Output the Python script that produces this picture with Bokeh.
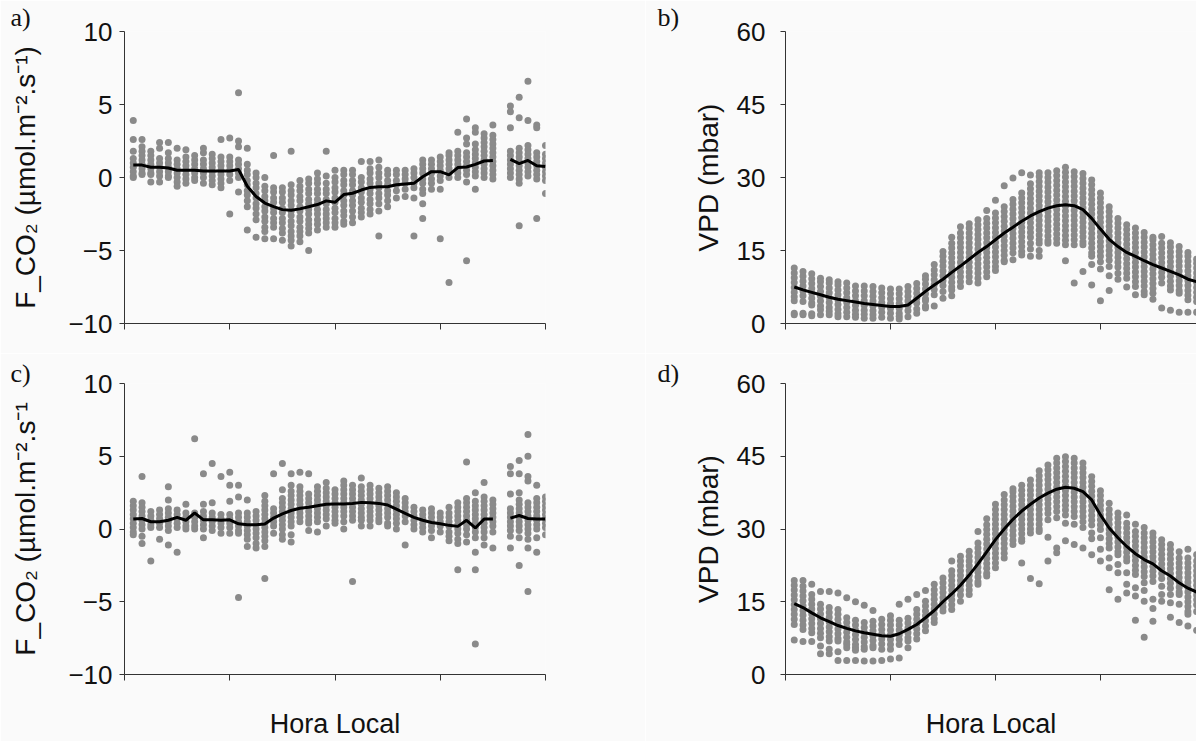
from bokeh.plotting import figure
from bokeh.layouts import column, row
from bokeh.models import FixedTicker, Range1d
from bokeh.embed import file_html
from bokeh.resources import INLINE

# ---------------- data ----------------
HOURS = [0.5, 1.0, 1.5, 2.0, 2.5, 3.0, 3.5, 4.0, 4.5, 5.0, 5.5, 6.0,
         6.5, 7.0, 7.5, 8.0, 8.5, 9.0, 9.5, 10.0, 10.5, 11.0, 11.5, 12.0,
         12.5, 13.0, 13.5, 14.0, 14.5, 15.0, 15.5, 16.0, 16.5, 17.0, 17.5, 18.0,
         18.5, 19.0, 19.5, 20.0, 20.5, 21.0, 21.5, 22.0, 22.5, 23.0, 23.5, 24.0]
NAN = float("nan")
X_TICKS = [0, 6, 12, 18, 24]
FCO2_TICKS = [-10, -5, 0, 5, 10]
VPD_TICKS = [0, 15, 30, 45, 60]

# panel a) F_CO2, individual half-hourly values per time of day
FCO2_A = [
    [3.9, 2.6, 1.8, 1.3, 1.0, 0.7, 0.4, 0.1, 0.0],
    [2.6, 2.1, 1.8, 1.5, 1.2, 0.9, 0.6, 0.3, 0.2],
    [1.8, 1.5, 1.2, 0.9, 0.6, 0.3, 0.2, -0.3],
    [2.4, 2.0, 1.3, 1.0, 0.7, 0.4, 0.1, -0.3],
    [2.4, 1.7, 1.3, 1.0, 0.7, 0.4, 0.1, 0.0],
    [2.0, 1.2, 0.9, 0.6, 0.3, 0.0, -0.3, -0.6],
    [1.9, 1.4, 1.1, 0.8, 0.5, 0.2, -0.1, -0.4],
    [1.5, 1.2, 0.9, 0.6, 0.3, 0.0, -0.2],
    [2.0, 1.7, 1.2, 0.9, 0.6, 0.3, 0.0, -0.4],
    [1.6, 1.3, 1.0, 0.7, 0.4, 0.1, -0.2, -0.5],
    [2.6, 1.4, 1.1, 0.8, 0.5, 0.2, -0.1, -0.4, -0.7],
    [2.7, 1.4, 1.1, 0.8, 0.5, 0.2, -0.2, -2.5],
    [5.8, 2.5, 2.1, 1.2, 0.9, 0.6, 0.3, 0.0, -1.0],
    [2.0, 0.9, 0.5, 0.2, -0.2, -0.5, -0.9, -1.2, -1.6, -2.0, -3.6],
    [0.3, 0.0, -0.4, -0.7, -1.1, -1.4, -1.8, -2.1, -2.5, -2.9, -4.1],
    [0.0, -0.6, -0.9, -1.3, -1.6, -2.0, -2.3, -2.7, -3.0, -3.4, -3.7, -4.2],
    [1.5, -0.7, -1.0, -1.4, -1.7, -2.1, -2.4, -2.8, -3.1, -3.4, -4.2],
    [-0.7, -1.0, -1.4, -1.7, -2.1, -2.4, -2.8, -3.1, -3.5, -3.8, -4.3],
    [1.8, -0.5, -0.9, -1.2, -1.6, -1.9, -2.3, -2.6, -3.0, -3.3, -3.7, -4.0, -4.3, -4.7],
    [-0.2, -0.6, -0.9, -1.3, -1.6, -2.0, -2.3, -2.7, -3.0, -3.4, -3.7, -4.0, -4.4],
    [-0.1, -0.4, -0.8, -1.1, -1.5, -1.8, -2.2, -2.5, -2.9, -3.2, -3.5, -3.8, -5.0],
    [0.3, -0.1, -0.4, -0.8, -1.1, -1.5, -1.8, -2.2, -2.5, -2.9, -3.2, -3.6],
    [1.8, 0.1, -0.4, -0.8, -1.1, -1.5, -1.8, -2.2, -2.5, -2.8, -3.1, -3.4],
    [0.5, 0.0, -0.3, -0.7, -1.0, -1.4, -1.7, -2.1, -2.4, -2.8, -3.1, -3.4],
    [0.5, 0.2, -0.2, -0.5, -0.9, -1.2, -1.6, -1.9, -2.3, -2.6, -3.0, -3.2],
    [0.5, 0.2, -0.2, -0.5, -0.9, -1.2, -1.6, -1.9, -2.3, -2.7, -3.1],
    [1.1, 0.0, -0.3, -0.7, -1.0, -1.4, -1.7, -2.1, -2.4, -2.7],
    [1.1, 0.6, 0.3, -0.1, -0.4, -0.8, -1.1, -1.5, -1.8, -2.2, -2.5],
    [1.2, 0.7, 0.3, 0.0, -0.4, -0.7, -1.1, -1.4, -1.8, -2.3, -4.0],
    [0.5, 0.2, -0.2, -0.5, -0.9, -1.2, -1.6, -2.0],
    [0.5, 0.2, -0.2, -0.5, -0.9, -1.4],
    [0.5, 0.2, -0.1, -0.4, -0.8, -1.3],
    [0.6, 0.3, 0.0, -0.4, -0.7, -1.4, -4.0],
    [1.2, 0.9, 0.6, 0.3, -0.1, -0.4, -0.8, -1.1, -1.8, -2.8],
    [1.2, 0.9, 0.6, 0.3, -0.1, -0.4, -0.8],
    [1.4, 1.1, 0.8, 0.5, 0.1, -0.2, -0.8, -4.2],
    [1.7, 1.5, 1.2, 0.9, 0.6, 0.3, 0.0, -7.2],
    [3.1, 1.8, 1.5, 1.2, 0.9, 0.6, 0.3, 0.0],
    [4.0, 2.7, 2.3, 1.7, 1.4, 1.1, 0.8, 0.5, 0.2, -0.3, -5.7],
    [3.4, 3.1, 2.3, 1.9, 1.6, 1.3, 1.0, 0.7, 0.4, 0.1, -0.8],
    [3.0, 2.7, 2.4, 2.1, 1.8, 1.5, 1.2, 0.9, 0.6, 0.3, 0.0],
    [3.6, 2.9, 2.6, 2.3, 2.0, 1.7, 1.4, 1.1, 0.8, 0.5, 0.2, -0.1],
    [],
    [4.9, 4.5, 3.4, 1.8, 1.5, 1.2, 0.9, 0.6, 0.3, 0.0],
    [5.5, 4.1, 2.0, 1.7, 1.4, 1.1, 0.8, 0.5, 0.2, -0.1, -0.4, -3.3],
    [6.6, 3.9, 2.2, 1.9, 1.6, 1.3, 1.0, 0.7, 0.4, 0.1],
    [3.6, 3.4, 1.7, 1.4, 1.1, 0.8, 0.5, 0.2, -0.1, -2.8],
    [2.2, 1.6, 1.3, 1.0, 0.7, 0.4, 0.1, -0.2, -1.1],
]
MEAN_A = [0.85, 0.85, 0.7, 0.7, 0.65, 0.5, 0.5, 0.5, 0.45, 0.45, 0.45, 0.45,
          0.55, -0.6, -1.3, -1.75, -2.0, -2.2, -2.25, -2.15, -2.0, -1.85, -1.6, -1.7,
          -1.17, -1.08, -0.86, -0.68, -0.63, -0.63, -0.5, -0.45, -0.4, 0.05, 0.4, 0.4,
          0.18, 0.68, 0.72, 0.9, 1.13, 1.17, NAN, 1.24, 0.95, 1.17, 0.8, 0.75]

# panel b) VPD (0.5 h .. 23.5 h visible)
VPD_B = [
    [11.4, 10.4, 9.4, 8.4, 7.4, 6.4, 5.5, 4.7, 2.1, 1.8],
    [10.7, 9.7, 8.7, 7.7, 6.7, 5.7, 4.5, 2.1, 1.8],
    [10.2, 9.2, 8.2, 7.2, 6.2, 5.2, 4.2, 3.8, 2.0, 1.6],
    [9.3, 8.6, 7.6, 6.6, 5.6, 4.6, 3.6, 2.8, 1.8],
    [9.0, 8.3, 7.3, 6.3, 5.3, 4.3, 3.3, 2.5, 1.8],
    [8.6, 7.9, 6.9, 5.9, 4.9, 3.9, 2.9, 2.0, 1.4],
    [8.3, 7.3, 6.3, 5.3, 4.3, 3.3, 2.3, 1.4],
    [7.7, 6.7, 5.7, 4.7, 3.7, 2.7, 1.9, 1.3],
    [7.7, 6.7, 5.7, 4.7, 3.7, 2.7, 1.9, 1.1],
    [7.6, 6.6, 5.6, 4.6, 3.6, 2.6, 1.8, 1.1],
    [7.3, 6.3, 5.3, 4.3, 3.3, 2.3, 1.3],
    [7.1, 6.1, 5.1, 4.1, 3.1, 2.1, 1.1],
    [7.1, 6.1, 5.1, 4.1, 3.1, 2.1, 1.5, 0.9],
    [7.6, 6.6, 5.6, 4.6, 3.6, 2.6, 1.4],
    [8.2, 7.2, 6.2, 5.2, 4.2, 3.0, 2.1],
    [9.8, 9.1, 8.1, 7.1, 6.1, 5.1, 4.7, 3.6, 3.2],
    [12.1, 11.0, 10.0, 9.0, 8.0, 7.0, 5.9, 3.6],
    [14.8, 13.8, 12.8, 11.8, 10.8, 9.8, 8.8, 7.8, 6.6, 5.2],
    [17.7, 16.5, 15.5, 14.5, 13.5, 12.5, 11.5, 10.5, 9.5, 8.5, 7.5, 6.9, 5.7],
    [19.9, 18.6, 17.6, 16.6, 15.6, 14.6, 13.6, 12.6, 11.6, 10.6, 9.6, 8.6, 7.6],
    [20.5, 19.6, 18.6, 17.6, 16.6, 15.6, 14.6, 13.6, 12.6, 11.6, 10.6, 9.6, 8.6],
    [21.3, 20.3, 19.3, 18.3, 17.3, 16.3, 15.3, 14.3, 13.3, 12.3, 11.3, 10.3, 9.3, 8.3],
    [23.2, 21.6, 20.6, 19.6, 18.6, 17.6, 16.6, 15.6, 14.6, 13.6, 12.6, 11.6, 10.6, 9.6],
    [25.3, 22.7, 21.7, 20.7, 19.7, 18.7, 17.7, 16.7, 15.7, 14.7, 13.7, 12.7, 11.7, 10.9],
    [28.3, 24.0, 23.0, 22.0, 21.0, 20.0, 19.0, 18.0, 17.0, 16.0, 15.0, 14.0, 13.0, 12.7],
    [29.9, 25.5, 24.5, 23.5, 22.5, 21.5, 20.5, 19.5, 18.5, 17.5, 16.5, 15.5, 14.5, 13.1],
    [31.0, 26.8, 25.8, 24.8, 23.8, 22.8, 21.8, 20.8, 19.8, 18.8, 17.8, 16.8, 15.8, 14.8, 14.1],
    [30.5, 28.7, 27.7, 26.7, 25.7, 24.7, 23.7, 22.7, 21.7, 20.7, 19.7, 18.7, 17.7, 16.5, 15.3, 13.8],
    [31.0, 30.2, 29.2, 28.2, 27.2, 26.2, 25.2, 24.2, 23.2, 22.2, 21.2, 20.2, 19.2, 18.2, 17.2, 16.5, 15.0, 13.8],
    [31.0, 30.0, 29.0, 28.0, 27.0, 26.0, 25.0, 24.0, 23.0, 22.0, 21.0, 20.0, 19.0, 18.0, 17.0, 16.5],
    [31.4, 30.4, 29.4, 28.4, 27.4, 26.4, 25.4, 24.4, 23.4, 22.4, 21.4, 20.4, 19.4, 18.4, 17.4, 16.5],
    [32.1, 31.1, 30.1, 29.1, 28.1, 27.1, 26.1, 25.1, 24.1, 23.1, 22.1, 21.1, 20.1, 19.1, 18.1, 17.1, 16.2, 12.9],
    [31.2, 30.2, 29.2, 28.2, 27.2, 26.2, 25.2, 24.2, 23.2, 22.2, 21.2, 20.2, 19.2, 18.2, 17.2, 16.2, 8.3],
    [30.8, 29.8, 28.8, 27.8, 26.8, 25.8, 24.8, 23.8, 22.8, 21.8, 20.8, 19.8, 18.8, 17.8, 16.8, 16.2, 10.7],
    [29.5, 28.5, 27.5, 26.5, 25.5, 24.5, 23.5, 22.5, 21.5, 20.5, 19.5, 18.5, 17.5, 16.5, 15.5, 14.5, 13.8, 12.1, 7.9],
    [26.8, 25.8, 24.8, 23.8, 22.8, 21.8, 20.8, 19.8, 18.8, 17.8, 16.8, 15.8, 14.8, 13.8, 12.7, 11.2, 4.7],
    [24.0, 23.0, 22.0, 21.0, 20.0, 19.0, 18.0, 17.0, 16.0, 15.0, 14.0, 13.0, 11.7, 9.8, 6.8],
    [21.6, 20.6, 19.6, 18.6, 17.6, 16.6, 15.6, 14.6, 13.6, 12.6, 11.6, 10.3, 9.1],
    [20.3, 19.3, 18.3, 17.3, 16.3, 15.3, 14.3, 13.3, 12.3, 11.3, 10.3, 9.3, 7.5],
    [19.6, 18.6, 17.6, 16.6, 15.6, 14.6, 13.6, 12.6, 11.6, 10.6, 9.6, 8.6, 7.6, 5.9],
    [18.7, 17.7, 16.7, 15.7, 14.7, 13.7, 12.7, 11.7, 10.7, 9.7, 8.7, 7.7, 6.6, 5.9],
    [17.7, 17.2, 16.2, 15.2, 14.2, 13.2, 12.2, 11.2, 10.2, 9.2, 8.2, 7.2, 6.2, 5.0],
    [17.9, 16.5, 15.5, 14.5, 13.5, 12.5, 11.5, 10.5, 9.5, 8.3, 3.2],
    [16.6, 15.7, 14.7, 13.7, 12.7, 11.7, 10.7, 9.7, 8.7, 7.7, 6.9, 2.7],
    [15.8, 14.8, 13.8, 12.8, 11.8, 10.8, 9.8, 8.8, 7.8, 6.8, 6.2, 2.3],
    [14.6, 13.8, 12.8, 11.8, 10.8, 9.8, 8.8, 7.8, 6.8, 5.8, 4.9, 2.3],
    [13.2, 12.4, 11.4, 10.4, 9.4, 8.4, 7.4, 6.4, 5.4, 4.5, 2.3],
]
MEAN_B = [7.5, 6.9, 6.4, 5.9, 5.4, 5.0, 4.7, 4.4, 4.1, 3.9, 3.7, 3.5,
          3.5, 3.8, 5.2, 6.6, 7.9, 9.1, 10.5, 11.8, 13.2, 14.6, 15.8, 17.2,
          18.6, 19.8, 21.0, 22.1, 23.0, 23.7, 24.2, 24.4, 24.2, 23.4, 21.6, 19.4,
          17.3, 15.8, 14.6, 13.8, 12.9, 12.1, 11.4, 10.7, 10.0, 9.1, 8.6]

# panel c) F_CO2
FCO2_C = [
    [1.9, 1.6, 1.3, 1.0, 0.7, 0.4, 0.1, -0.2, -0.4],
    [3.6, 1.8, 1.5, 1.2, 0.9, 0.6, 0.3, 0.0, -0.5, -1.0],
    [1.2, 0.9, 0.6, 0.3, 0.1, -2.2],
    [1.3, 1.0, 0.7, 0.4, 0.1, -0.7],
    [2.9, 2.0, 1.4, 1.1, 0.8, 0.5, 0.2, -0.1, -1.1],
    [1.3, 1.0, 0.7, 0.4, 0.1, -1.6],
    [1.7, 1.1, 0.8, 0.5, 0.2, 0.0],
    [6.2, 1.1, 0.8, 0.5, 0.2, 0.0],
    [3.8, 1.7, 1.2, 0.9, 0.6, 0.3, 0.0, -0.6],
    [4.5, 1.8, 1.1, 0.8, 0.5, 0.2, -0.1],
    [3.6, 1.0, 0.7, 0.4, 0.1, -0.3],
    [3.9, 3.0, 1.9, 1.0, 0.7, 0.4, 0.1, -0.3],
    [3.0, 2.2, 1.1, 0.8, 0.5, 0.2, -0.1, -0.3, -4.7],
    [2.0, 1.1, 0.8, 0.5, 0.2, -0.1, -0.4, -0.7, -1.2],
    [1.2, 0.9, 0.6, 0.3, 0.0, -0.3, -0.6, -1.0, -1.3],
    [2.3, 1.9, 1.6, 1.3, 1.0, 0.7, 0.4, 0.1, -0.2, -0.5, -0.8, -1.2, -3.4],
    [3.8, 1.4, 1.1, 0.8, 0.5, 0.2, -0.3],
    [4.5, 2.7, 2.1, 1.8, 1.5, 1.2, 0.9, 0.6, 0.3, 0.0, -0.4, -0.7],
    [3.8, 3.0, 2.6, 2.3, 2.0, 1.7, 1.4, 1.1, 0.8, 0.5, 0.2, -0.4, -0.9],
    [3.9, 2.9, 2.6, 2.3, 2.0, 1.7, 1.4, 1.1, 0.8, 0.5],
    [3.8, 2.4, 2.1, 1.8, 1.5, 1.2, 0.9, 0.6, 0.4, -0.1],
    [2.9, 2.6, 2.3, 2.0, 1.7, 1.4, 1.1, 0.8, 0.5, -0.2],
    [3.2, 2.8, 2.5, 2.2, 1.9, 1.6, 1.3, 1.0, 0.7, 0.2],
    [2.7, 2.4, 2.1, 1.8, 1.5, 1.2, 0.9, 0.6, 0.4],
    [3.3, 3.0, 2.7, 2.4, 2.1, 1.8, 1.5, 1.2, 0.9, 0.5, 0.0],
    [3.0, 2.7, 2.4, 2.1, 1.8, 1.5, 1.2, 0.9, 0.6, -3.6],
    [3.5, 2.9, 2.6, 2.3, 2.0, 1.7, 1.4, 1.1, 0.8, 0.6, 0.2],
    [3.0, 2.7, 2.4, 2.1, 1.8, 1.5, 1.2, 0.9, 0.6, 0.2],
    [2.8, 2.5, 2.2, 1.9, 1.6, 1.3, 1.0, 0.7, 0.5],
    [2.9, 2.6, 2.3, 2.0, 1.7, 1.4, 1.1, 0.8, 0.4, 0.2],
    [2.5, 2.2, 1.9, 1.6, 1.3, 1.0, 0.7, 0.4, 0.0],
    [2.1, 1.8, 1.5, 1.2, 0.9, 0.5, -1.1],
    [1.5, 1.2, 0.9, 0.6, 0.3, 0.0],
    [1.3, 1.0, 0.7, 0.4, 0.1, -0.2],
    [1.4, 1.1, 0.8, 0.5, 0.2, -0.1, -0.6],
    [1.1, 0.8, 0.5, 0.2, -0.2],
    [1.5, 1.1, 0.8, 0.5, 0.2, -0.2, -0.5, -0.8],
    [1.8, 1.5, 1.2, 0.9, 0.6, 0.3, 0.0, -0.3, -0.7, -1.0, -2.8],
    [4.6, 2.1, 1.8, 1.5, 1.2, 0.9, 0.6, 0.3, 0.0, -0.4, -0.9],
    [2.5, 1.9, 1.6, 1.3, 1.0, 0.7, 0.4, 0.1, -0.2, -0.6, -1.6, -2.8, -7.9],
    [3.2, 2.2, 1.9, 1.6, 1.3, 1.0, 0.7, 0.4, 0.1, -0.2, -0.6, -1.1],
    [2.0, 1.7, 1.4, 1.1, 0.8, 0.5, 0.2, -0.2, -1.3],
    [],
    [4.3, 3.8, 2.4, 1.4, 1.1, 0.8, 0.5, 0.2, -0.1, -0.5, -1.3],
    [4.7, 3.8, 2.5, 2.0, 1.7, 1.4, 1.1, 0.8, 0.5, 0.2, -0.1, -0.6, -2.5],
    [6.5, 5.0, 3.6, 3.3, 1.8, 1.5, 1.2, 0.9, 0.6, 0.3, 0.0, -0.3, -0.7, -1.3, -4.3],
    [3.0, 2.1, 1.8, 1.5, 1.2, 0.9, 0.6, 0.3, 0.0, -0.6, -1.6],
    [2.2, 1.9, 1.6, 1.3, 1.0, 0.7, 0.4, 0.1, -0.4],
]
MEAN_C = [0.68, 0.72, 0.5, 0.5, 0.6, 0.8, 0.6, 1.1, 0.63, 0.63, 0.6, 0.63,
          0.36, 0.3, 0.3, 0.34, 0.75, 1.04, 1.27, 1.43, 1.5, 1.6, 1.7, 1.72,
          1.72, 1.76, 1.83, 1.8, 1.76, 1.65, 1.36, 1.08, 0.8, 0.6, 0.45, 0.36,
          0.25, 0.18, 0.6, 0.07, 0.68, 0.68, NAN, 0.75, 0.93, 0.72, 0.68, 0.68]

# panel d) VPD (0.5 h .. 23.5 h visible)
VPD_D = [
    [19.4, 18.4, 17.4, 16.4, 15.4, 14.4, 13.4, 12.4, 11.4, 10.3, 7.1],
    [19.4, 18.2, 17.2, 16.2, 15.2, 14.2, 13.2, 12.2, 11.2, 10.2, 9.3, 6.8],
    [18.6, 16.5, 15.5, 14.5, 13.5, 12.5, 11.5, 10.5, 9.5, 8.6, 6.8],
    [17.1, 14.5, 13.5, 12.5, 11.5, 10.5, 9.5, 8.5, 7.6, 5.9, 4.3],
    [17.1, 13.8, 12.8, 11.8, 10.8, 9.8, 8.8, 7.8, 6.9, 5.2, 4.3],
    [16.8, 13.4, 12.4, 11.4, 10.4, 9.4, 8.4, 7.4, 6.9, 4.7, 2.9],
    [15.8, 11.7, 10.7, 9.7, 8.7, 7.7, 6.7, 6.2, 5.5, 2.9],
    [15.0, 11.2, 10.2, 9.2, 8.2, 7.2, 6.2, 5.5, 5.0, 2.9],
    [14.3, 10.7, 9.7, 8.7, 7.7, 6.7, 5.7, 5.2, 2.8],
    [13.2, 11.0, 10.0, 9.0, 8.0, 7.0, 6.0, 5.5, 2.8],
    [11.4, 10.3, 9.3, 8.3, 7.3, 6.3, 5.2, 2.9],
    [12.1, 11.2, 10.2, 9.2, 8.2, 7.2, 6.2, 5.2, 3.2],
    [14.5, 11.2, 10.2, 9.2, 8.2, 7.2, 6.2, 3.4],
    [15.5, 11.6, 10.6, 9.6, 8.6, 7.6, 6.9, 5.5],
    [16.5, 13.4, 12.4, 11.4, 10.4, 9.4, 8.4, 7.3],
    [17.3, 15.1, 14.1, 13.1, 12.1, 11.1, 10.0, 9.0],
    [18.6, 17.5, 16.5, 15.5, 14.5, 13.5, 12.5, 11.5, 10.7],
    [19.9, 18.9, 17.9, 16.9, 15.9, 14.9, 13.9, 13.1],
    [23.4, 21.4, 20.4, 19.4, 18.4, 17.4, 16.4, 15.4, 14.4, 13.4],
    [24.4, 23.4, 22.4, 21.4, 20.4, 19.4, 18.4, 17.4, 16.4, 15.1],
    [25.4, 24.4, 23.4, 22.4, 21.4, 20.4, 19.4, 18.4, 17.4, 16.5],
    [29.5, 27.1, 26.1, 25.1, 24.1, 23.1, 22.1, 21.1, 20.1, 19.1, 18.6],
    [32.1, 30.9, 29.9, 28.9, 27.9, 26.9, 25.9, 24.9, 23.9, 22.9, 21.9, 20.9, 20.3],
    [35.1, 34.0, 33.0, 32.0, 31.0, 30.0, 29.0, 28.0, 27.0, 26.0, 25.0, 24.0, 23.0, 22.0],
    [37.1, 36.0, 35.0, 34.0, 33.0, 32.0, 31.0, 30.0, 29.0, 28.0, 27.0, 26.0, 25.0, 24.0],
    [38.3, 37.7, 36.7, 35.7, 34.7, 33.7, 32.7, 31.7, 30.7, 29.7, 28.7, 27.7, 26.8],
    [39.0, 38.0, 37.0, 36.0, 35.0, 34.0, 33.0, 32.0, 31.0, 30.0, 29.0, 28.0, 27.5, 23.0],
    [40.1, 39.0, 38.0, 37.0, 36.0, 35.0, 34.0, 33.0, 32.0, 31.0, 30.0, 29.2, 19.8],
    [42.0, 41.0, 40.0, 39.0, 38.0, 37.0, 36.0, 35.0, 34.0, 33.0, 32.0, 31.0, 30.0, 29.5, 18.7],
    [43.2, 42.2, 41.2, 40.2, 39.2, 38.2, 37.2, 36.2, 35.2, 34.2, 33.2, 31.9, 28.3, 23.4],
    [44.6, 43.6, 42.6, 41.6, 40.6, 39.6, 38.6, 37.6, 36.6, 35.6, 34.6, 33.6, 32.3, 26.1, 25.1],
    [44.9, 43.9, 42.9, 41.9, 40.9, 39.9, 38.9, 37.9, 36.9, 35.9, 34.9, 33.9, 32.9, 31.2, 27.6],
    [44.6, 43.6, 42.6, 41.6, 40.6, 39.6, 38.6, 37.6, 36.6, 35.6, 34.6, 33.6, 32.6, 31.0, 26.8],
    [43.6, 42.6, 41.6, 40.6, 39.6, 38.6, 37.6, 36.6, 35.6, 34.6, 33.6, 32.6, 31.5, 30.3, 26.1],
    [40.8, 39.8, 38.8, 37.8, 36.8, 35.8, 34.8, 33.8, 32.8, 31.8, 30.8, 29.2, 28.0, 24.7],
    [37.9, 36.9, 35.9, 34.9, 33.9, 32.9, 31.9, 30.9, 29.9, 28.2, 25.8, 23.4],
    [35.3, 34.0, 33.0, 32.0, 31.0, 30.0, 29.0, 28.0, 27.0, 26.1, 24.0, 22.0, 17.5],
    [33.3, 32.3, 31.3, 30.3, 29.3, 28.3, 27.3, 26.3, 25.3, 24.7, 22.7, 21.0, 15.5],
    [32.9, 31.2, 30.2, 29.2, 28.2, 27.2, 26.2, 25.2, 24.2, 23.4, 21.0, 18.6, 16.8],
    [31.0, 29.5, 28.5, 27.5, 26.5, 25.5, 24.5, 23.5, 22.5, 21.5, 20.6, 17.9, 16.2, 11.2],
    [30.3, 29.2, 28.2, 27.2, 26.2, 25.2, 24.2, 23.2, 22.2, 21.2, 20.2, 18.9, 17.3, 15.1, 7.7],
    [29.2, 28.3, 27.3, 26.3, 25.3, 24.3, 23.3, 22.3, 21.3, 20.3, 19.2, 15.5, 13.6, 11.0],
    [27.8, 26.8, 25.8, 24.8, 23.8, 22.8, 21.8, 20.8, 19.8, 18.2, 16.5, 15.1],
    [26.8, 25.8, 24.8, 23.8, 22.8, 21.8, 20.8, 19.8, 18.8, 17.8, 16.5, 14.8, 11.8],
    [25.3, 24.0, 23.0, 22.0, 21.0, 20.0, 19.0, 18.0, 17.0, 16.5, 14.5, 10.7],
    [25.8, 24.0, 23.0, 22.0, 21.0, 20.0, 19.0, 18.0, 17.0, 16.0, 15.0, 14.0, 13.0, 12.4, 10.0],
    [24.7, 23.4, 22.4, 21.4, 20.4, 19.4, 18.4, 17.4, 16.4, 15.4, 14.4, 13.0, 9.1],
]
MEAN_D = [14.6, 13.8, 12.7, 11.7, 10.9, 10.1, 9.5, 9.0, 8.6, 8.3, 8.0, 7.9,
          8.4, 9.3, 10.3, 11.7, 13.2, 15.0, 16.6, 18.4, 20.5, 22.8, 25.3, 27.8,
          30.0, 32.0, 33.7, 35.1, 36.4, 37.4, 38.2, 38.6, 38.4, 37.7, 36.0, 32.9,
          30.2, 28.2, 26.4, 24.9, 23.7, 22.8, 21.4, 20.3, 18.9, 17.8, 17.0]

LABEL_FCO2 = "F_CO\u2082 (\u00b5mol.m\u207b\u00b2.s\u207b\u00b9)"
LABEL_FCO2_C = "F_CO\u2082 (\u00b5mol.m\u207b\u00b2.s\u207b\u00b9"
LABEL_VPD = "VPD (mbar)"
XLABEL = "Hora Local"

# ---------------- styling ----------------
BG = "#fafafa"
DOT = "#8a8a8a"
AXC = "#333333"
TXT = "#111111"
SANS = "Liberation Sans"
SERIF = "Liberation Serif"


def panel(cols, mean, y0, y1, yticks, x_end, width, height, mbl, mbr, mbt, mbb,
          ylabel, lab_standoff, axlab_standoff, letter, letter_offset,
          letter_standoff, xlabel=None):
    p = figure(width=width, height=height, x_range=Range1d(0, x_end),
               y_range=Range1d(y0, y1), output_backend="svg",
               toolbar_location=None, min_border_left=mbl, min_border_right=mbr,
               min_border_top=mbt, min_border_bottom=mbb,
               background_fill_color=BG, border_fill_color=BG,
               outline_line_color=None)
    p.grid.visible = False
    hrs = HOURS[:len(cols)]
    xs = [h for h, c in zip(hrs, cols) for _ in c]
    ys = [v for c in cols for v in c]
    p.scatter(xs, ys, size=7, fill_color=DOT, line_color=None)
    p.line(HOURS[:len(mean)], mean, line_color="black", line_width=3)

    # panel letter as a title, pushed left of the frame
    p.title.text = letter
    p.title.align = "left"
    p.title.offset = letter_offset
    p.title.standoff = letter_standoff
    p.title.text_font = SERIF
    p.title.text_font_size = "26px"
    p.title.text_font_style = "normal"
    p.title.text_color = TXT

    xa = p.xaxis[0]
    xa.ticker = FixedTicker(ticks=X_TICKS)
    xa.major_label_overrides = {t: "" for t in X_TICKS}
    xa.major_label_text_font_size = "1px"
    xa.major_label_standoff = 0
    xa.major_tick_out = 6
    xa.major_tick_in = 0
    xa.minor_tick_out = 0
    xa.minor_tick_in = 0
    xa.axis_line_color = AXC
    xa.major_tick_line_color = AXC
    if xlabel:
        xa.axis_label = xlabel
        xa.axis_label_text_font = SANS
        xa.axis_label_text_font_size = "27px"
        xa.axis_label_text_font_style = "normal"
        xa.axis_label_text_color = TXT
        xa.axis_label_standoff = 28

    ya = p.yaxis[0]
    ya.ticker = FixedTicker(ticks=yticks)
    ya.major_tick_out = 5
    ya.major_tick_in = 0
    ya.minor_tick_out = 0
    ya.minor_tick_in = 0
    ya.axis_line_color = AXC
    ya.major_tick_line_color = AXC
    ya.major_label_text_font = SANS
    ya.major_label_text_font_size = "26px"
    ya.major_label_text_color = TXT
    ya.major_label_standoff = lab_standoff
    ya.axis_label = ylabel
    ya.axis_label_text_font = SANS
    ya.axis_label_text_font_size = "28px"
    ya.axis_label_text_font_style = "normal"
    ya.axis_label_text_color = TXT
    ya.axis_label_standoff = axlab_standoff
    return p


pa = panel(FCO2_A, MEAN_A, -10, 10, FCO2_TICKS, 24, 645, 353, 124, 100, 30, 30,
           LABEL_FCO2, 7, 24, "a)", -114, 0)
pb = panel(VPD_B, MEAN_B, 0, 60, VPD_TICKS, 23.49, 551, 353, 140, 0, 30, 30,
           LABEL_VPD, 15, 10, "b)", -128, 0)
pc = panel(FCO2_C, MEAN_C, -10, 10, FCO2_TICKS, 24, 645, 388, 124, 100, 30, 64,
           LABEL_FCO2_C, 7, 24, "c)", -114, -8, xlabel=XLABEL)
pd_ = panel(VPD_D, MEAN_D, 0, 60, VPD_TICKS, 23.49, 551, 388, 140, 0, 30, 64,
            LABEL_VPD, 15, 10, "d)", -128, -8, xlabel=XLABEL)

layout = column(row(pa, pb), row(pc, pd_))
open("out.html", "w").write(file_html(layout, INLINE))
